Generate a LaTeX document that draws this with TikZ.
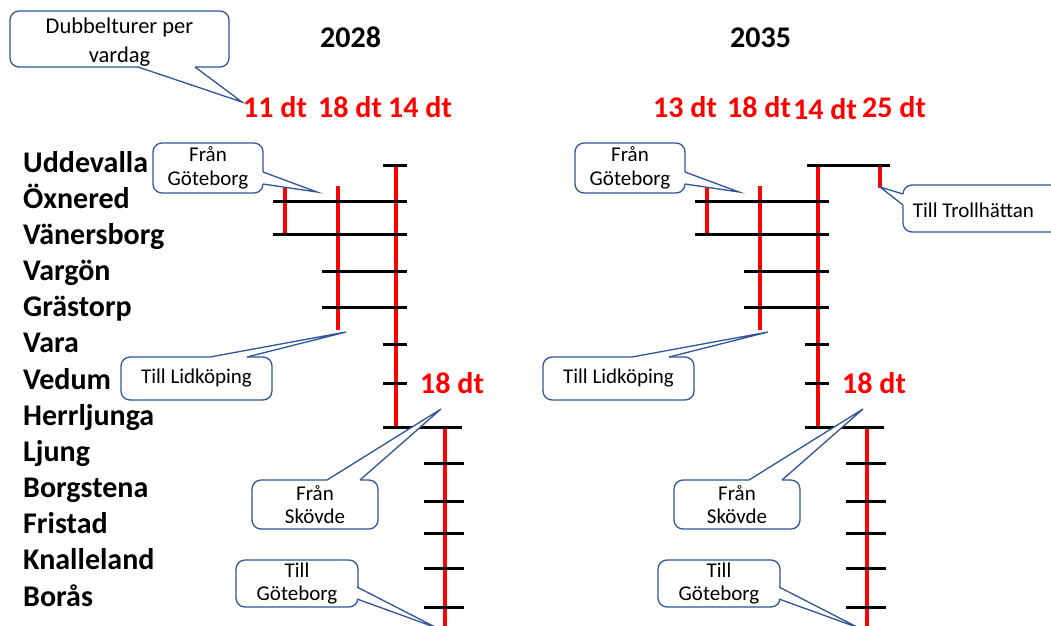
\documentclass[tikz,border=0pt]{standalone}
\usepackage{fontspec}
\setmainfont{Carlito}
\definecolor{calloutblue}{RGB}{47,85,151}
\definecolor{rail}{RGB}{255,0,0}
\tikzset{
  track/.style={draw=rail, line width=4.5pt},
  tie/.style={draw=black, line width=3pt},
  station/.style={anchor=base west, inner sep=0pt, font=\fontsize{30}{36}\selectfont\bfseries},
  count/.style={anchor=base west, inner sep=0pt, text=rail, font=\fontsize{30}{36}\selectfont\bfseries},
  yearlabel/.style={anchor=base west, inner sep=0pt, font=\fontsize{30}{36}\selectfont\bfseries},
  callout/.style={draw=calloutblue, line width=1.3pt, fill=white, rounded corners=9pt,
    align=center, inner sep=0pt, font=\fontsize{21}{23.5}\selectfont},
  calltext/.style={align=center, inner sep=0pt, font=\fontsize{21}{23.5}\selectfont},
  pointer/.style={draw=calloutblue, line width=1.3pt, line join=miter},
}
% #1 inner start, #2 base start, #3 tip, #4 base end, #5 inner end
\newcommand{\calloutptr}[5]{%
  \fill[white] (#1) -- (#2) -- (#3) -- (#4) -- (#5) -- cycle;
  \draw[pointer] (#2) -- (#3) -- (#4);
}
% common track layout of one panel; #1 name suffix, #2 horizontal shift
\newcommand{\trackpanel}[2]{%
  \begin{scope}[xshift=#2pt]
    \coordinate (la#1) at (285,188); \coordinate (lb#1) at (285,234);
    \coordinate (ma#1) at (338,186); \coordinate (mb#1) at (338,330);
    \coordinate (na#1) at (396,165); \coordinate (nb#1) at (396,429);
    \coordinate (sa#1) at (445,427); \coordinate (sb#1) at (445,640);
    \draw[track] (la#1) -- (lb#1);
    \draw[track] (ma#1) -- (mb#1);
    \draw[track] (na#1) -- (nb#1);
    \draw[track] (sa#1) -- (sb#1);
    \draw[tie] (273,201) -- (407,201);
    \draw[tie] (273,234) -- (407,234);
    \draw[tie] (322,271) -- (407,271);
    \draw[tie] (322,307) -- (407,307);
    \draw[tie] (383,344) -- (407,344);
    \draw[tie] (383,383) -- (407,383);
    \draw[tie] (383,427) -- (462,427);
    \foreach \yy in {463,501,533,568,607} \draw[tie] (424,\yy) -- (464,\yy);
  \end{scope}}
\begin{document}
\begin{tikzpicture}[x=1pt,y=-1pt]
\useasboundingbox (0,0) rectangle (1051,625);
\clip (0,0) rectangle (1051,625);

% stations
\foreach \n [count=\i from 0] in {Uddevalla,Öxnered,Vänersborg,Vargön,Grästorp,Vara,Vedum,Herrljunga,Ljung,Borgstena,Fristad,Knalleland,Borås}
  \node[station] (st\i) at (23,{172+36.17*\i}) {\n};

% tracks
\trackpanel{A}{0}
\trackpanel{B}{422}
\draw[tie] (383,165) -- (407,165);
\coordinate (tra) at (880,165); \coordinate (trb) at (880,188);
\draw[track] (tra) -- (trb);
\draw[tie] (807,165) -- (890,165);

% years and counts
\node[yearlabel] (y28) at (320,47) {2028};
\node[yearlabel] (y35) at (730,47) {2035};
\node[count] (c11) at (243,117) {11 dt};
\node[count] (c18a) at (318,117) {18 dt};
\node[count] (c14a) at (388,117) {14 dt};
\node[count] (c18m) at (420,393) {18 dt};
\node[count] (c13) at (653,117) {13 dt};
\node[count] (c18b) at (727,117) {18 dt};
\node[count] (c14b) at (793,119) {14 dt};
\node[count] (c25) at (862,117) {25 dt};
\node[count] (c18n) at (842,393) {18 dt};

% callouts 2028
\node[callout, minimum width=219pt, minimum height=56pt] (dub) at (119.5,39) {};
\calloutptr{138,64}{138,67}{242,102}{195,67}{195,64}
\node[calltext, font=\fontsize{22.5}{29}\selectfont] (dubt) at (119.5,42.5) {Dubbelturer per\\vardag};
\node[callout, minimum width=110pt, minimum height=50pt] (fg1) at (208,168) {Från\\Göteborg};
\calloutptr{260,172}{263,172}{317,192}{263,184}{260,184}
\node[callout, minimum width=151pt, minimum height=43pt] (tl1) at (196.5,378.5) {Till Lidköping};
\calloutptr{210,360}{210,357}{346,332}{247,357}{247,360}
\node[callout, minimum width=126pt, minimum height=49pt] (fs1) at (315,504.5) {Från\\Skövde};
\calloutptr{327,483}{327,480}{441,409}{360,480}{360,483}
\node[callout, minimum width=122pt, minimum height=47pt] (tg1) at (297,583.5) {Till\\Göteborg};
\calloutptr{354,587}{357,587}{437,628}{357,599}{354,599}

% callouts 2035
\node[callout, minimum width=110pt, minimum height=50pt] (fg2) at (630,168) {Från\\Göteborg};
\calloutptr{682,172}{685,172}{739,192}{685,184}{682,184}
\node[callout, minimum width=151pt, minimum height=43pt] (tl2) at (618.5,378.5) {Till Lidköping};
\calloutptr{632,360}{632,357}{768,332}{669,357}{669,360}
\node[callout, minimum width=126pt, minimum height=49pt] (fs2) at (737,504.5) {Från\\Skövde};
\calloutptr{749,483}{749,480}{863,409}{782,480}{782,483}
\node[callout, minimum width=122pt, minimum height=47pt] (tg2) at (719,583.5) {Till\\Göteborg};
\calloutptr{776,587}{779,587}{859,628}{779,599}{776,599}
\node[callout, minimum width=162pt, minimum height=47pt] (tt) at (984,208.5) {};
\node[calltext] (ttx) at (973.5,210) {Till Trollhättan};
\calloutptr{906,194}{903,194}{880,187}{903,205}{906,205}
\end{tikzpicture}
\end{document}
